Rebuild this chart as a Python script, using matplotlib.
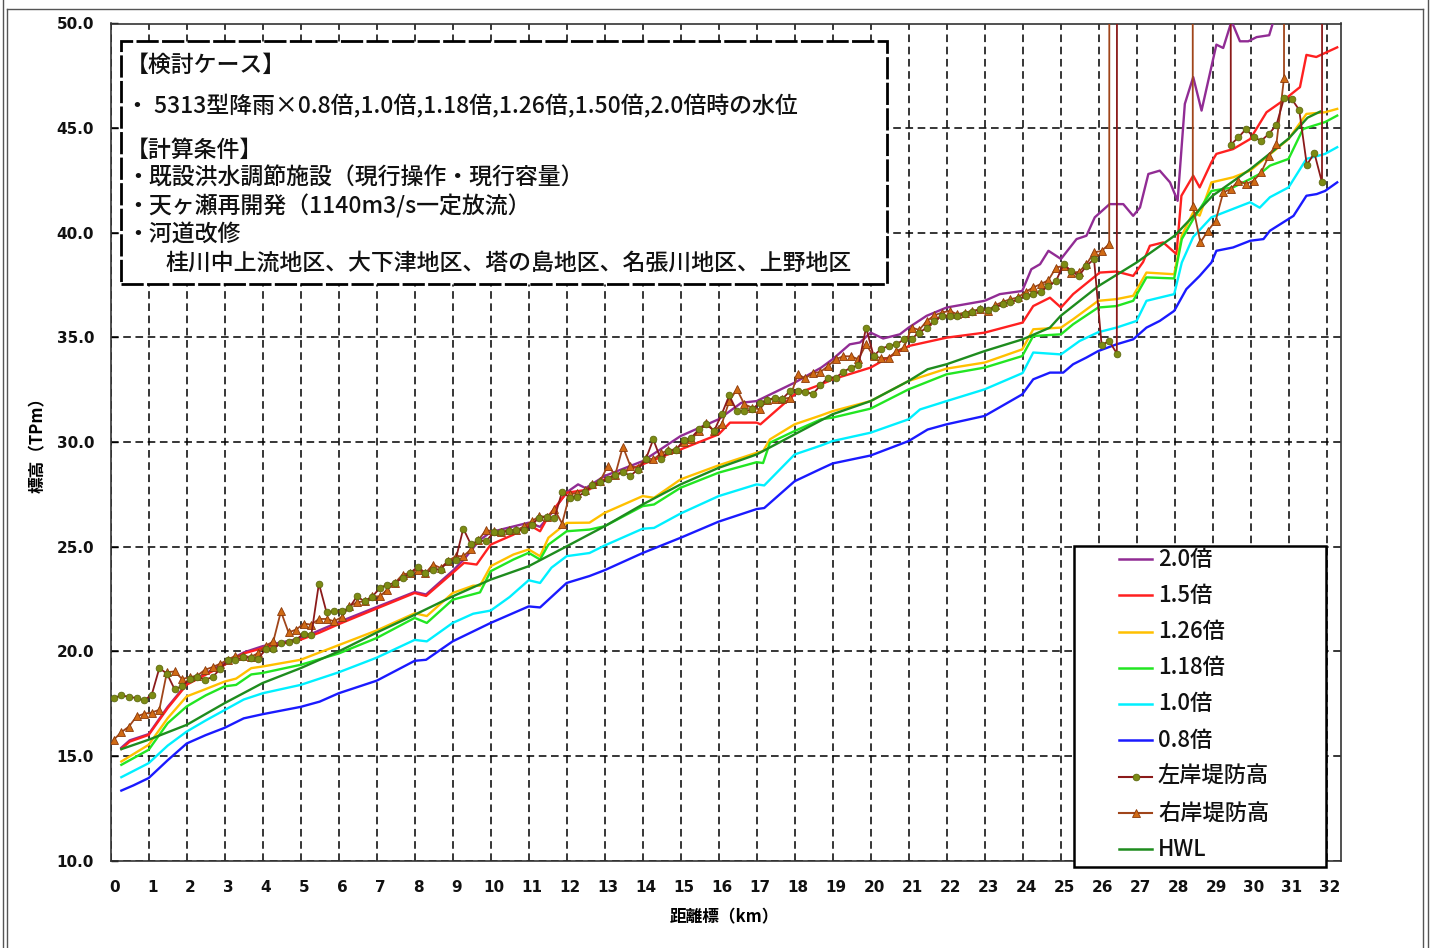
import numpy as np
import matplotlib
matplotlib.use("Agg")
import matplotlib.pyplot as plt
from matplotlib.lines import Line2D
from matplotlib.patches import Rectangle

plt.rcParams['font.family'] = ['Noto Sans CJK JP', 'DejaVu Sans']

W, H = 1434, 948
HI = 999.0  # 欠測（グラフ上端を超える値）

# ---------------- data ----------------
km_20 = [0.28, 0.5, 1.0, 1.5, 2.0, 3.0, 3.5, 4.0, 5.0, 6.0, 7.0, 8.0, 8.3, 9.0, 9.3, 9.7, 10.0, 11.0, 11.3,
         11.6, 12.0, 12.3, 12.5, 13.0, 14.0, 15.0, 16.0, 16.6, 17.0, 18.0, 18.7, 19.0, 19.45, 19.72, 20.0,
         20.33, 20.77, 21.0, 21.47, 22.0, 23.0, 23.4, 23.99, 24.23, 24.46, 24.68, 25.01, 25.42, 25.68, 25.9,
         26.29, 26.65, 26.91, 27.09, 27.31, 27.61, 27.88, 28.08, 28.27, 28.49, 28.71, 29.1, 29.28, 29.5,
         29.72, 29.94, 30.16, 30.49, 30.65, 31.0, 32.28]
wl_20 = [15.40, 15.75, 16.05, 17.35, 18.45, 19.45, 19.95, 20.25, 20.62, 21.40, 22.12, 22.84, 22.72, 23.85,
         24.40, 25.30, 25.70, 26.15, 25.95, 26.60, 27.60, 27.98, 27.80, 28.38, 29.09, 30.29, 31.09, 31.88,
         31.96, 32.84, 33.56, 33.96, 34.67, 34.76, 35.23, 34.95, 35.15, 35.47, 36.03, 36.43, 36.75, 37.07,
         37.22, 38.26, 38.50, 39.14, 38.75, 39.70, 39.86, 40.74, 41.37, 41.37, 40.81, 41.21, 42.81, 42.97,
         42.41, 41.53, 46.16, 47.44, 45.84, 48.99, 48.83, 50.11, 49.15, 49.15, 49.35, 49.44, 50.40, 51.00,
         52.00]

km_15 = [0.28, 0.5, 1.0, 1.5, 2.0, 3.0, 3.5, 4.0, 5.0, 5.5, 6.0, 7.0, 8.0, 8.3, 9.0, 9.3, 9.63, 10.0, 10.6,
         11.0, 11.3, 11.52, 12.0, 12.6, 13.0, 14.0, 15.0, 16.0, 16.3, 17.0, 17.1, 18.0, 18.7, 19.0, 20.0,
         21.0, 22.0, 23.0, 24.0, 24.28, 24.72, 25.01, 25.33, 26.03, 26.47, 26.91, 27.17, 27.35, 27.7, 28.05,
         28.18, 28.49, 28.66, 28.97, 29.1, 29.54, 29.99, 30.42, 30.86, 31.3, 31.47, 31.73, 32.28]
wl_15 = [15.34, 15.69, 16.01, 17.29, 18.41, 19.36, 19.90, 20.16, 20.56, 20.90, 21.30, 22.05, 22.79, 22.65,
         23.75, 24.23, 24.15, 25.10, 25.58, 26.06, 25.74, 26.46, 27.58, 27.74, 28.22, 28.94, 29.65, 30.37,
         30.93, 30.93, 30.85, 32.28, 32.76, 33.00, 33.56, 34.59, 34.99, 35.23, 35.71, 36.50, 36.90, 36.43,
         37.07, 38.10, 38.15, 37.94, 38.60, 39.38, 39.54, 38.98, 41.77, 42.73, 42.17, 43.37, 43.77, 44.00,
         44.48, 45.76, 46.32, 46.96, 48.50, 48.40, 48.86]

km_126 = [0.28, 1.0, 1.5, 2.0, 2.5, 3.0, 3.3, 3.7, 4.0, 5.0, 6.0, 7.0, 8.0, 8.32, 9.0, 9.54, 9.72, 10.0, 10.6,
          11.0, 11.3, 11.52, 12.0, 12.6, 13.0, 14.0, 14.3, 15.0, 16.0, 17.0, 17.17, 17.35, 18.0, 18.7, 19.0,
          20.0, 21.0, 22.0, 23.0, 23.99, 24.28, 25.01, 25.33, 25.99, 26.47, 26.91, 27.26, 27.99, 28.19, 28.49,
          28.66, 28.97, 29.54, 29.99, 31.0, 31.47, 31.96, 32.28]
wl_126 = [14.74, 15.54, 16.81, 17.85, 18.20, 18.56, 18.70, 19.20, 19.28, 19.60, 20.30, 21.00, 21.82, 21.69,
          22.79, 23.14, 23.14, 24.07, 24.63, 24.87, 24.55, 25.43, 26.14, 26.15, 26.62, 27.42, 27.34, 28.22,
          28.89, 29.49, 29.57, 30.13, 30.85, 31.28, 31.48, 31.96, 32.92, 33.51, 33.80, 34.43, 35.39, 35.47,
          35.87, 36.75, 36.83, 36.99, 38.10, 38.02, 39.87, 40.98, 40.82, 42.41, 42.65, 42.97, 44.48, 45.68,
          45.76, 45.92]

km_118 = [0.28, 1.0, 1.5, 2.0, 2.5, 3.0, 3.3, 3.7, 4.0, 5.0, 6.0, 7.0, 8.0, 8.32, 9.0, 9.72, 10.0, 10.6,
          11.0, 11.3, 11.52, 12.0, 12.6, 13.0, 14.0, 14.3, 15.0, 16.0, 17.0, 17.17, 17.35, 18.0, 18.7, 19.0,
          20.0, 21.0, 22.0, 23.0, 23.99, 24.28, 25.01, 25.33, 25.99, 26.47, 26.91, 27.26, 27.99, 28.19, 28.49,
          28.97, 29.54, 29.99, 30.24, 30.51, 31.0, 31.38, 31.96, 32.28]
wl_118 = [14.58, 15.30, 16.57, 17.37, 17.90, 18.33, 18.40, 18.90, 18.97, 19.36, 19.90, 20.64, 21.60, 21.36,
          22.47, 22.82, 23.83, 24.39, 24.71, 24.39, 25.10, 25.74, 25.82, 25.98, 26.94, 27.02, 27.82, 28.54,
          29.04, 29.00, 29.97, 30.53, 31.09, 31.17, 31.60, 32.52, 33.24, 33.56, 34.11, 35.07, 35.15, 35.63,
          36.43, 36.50, 36.75, 37.87, 37.82, 39.70, 40.65, 42.00, 42.17, 42.57, 42.81, 43.21, 43.53, 44.96,
          45.29, 45.60]

km_10 = [0.28, 1.0, 1.5, 2.0, 2.5, 3.0, 3.5, 4.0, 5.0, 6.0, 7.0, 8.0, 8.32, 9.0, 9.54, 10.0, 10.5, 11.0,
         11.3, 11.6, 12.0, 12.6, 13.0, 14.0, 14.3, 15.0, 16.0, 17.0, 17.2, 18.0, 18.7, 19.0, 20.0, 21.0, 21.3,
         22.0, 23.0, 24.0, 24.28, 25.01, 25.5, 25.99, 26.47, 27.0, 27.26, 27.99, 28.19, 28.49, 28.97, 29.99,
         30.24, 30.51, 31.0, 31.47, 31.96, 32.28]
wl_10 = [13.99, 14.66, 15.50, 16.17, 16.70, 17.20, 17.70, 18.00, 18.40, 19.00, 19.70, 20.55, 20.48, 21.36,
         21.80, 21.95, 22.60, 23.40, 23.27, 24.00, 24.55, 24.70, 25.06, 25.86, 25.90, 26.59, 27.42, 27.98,
         27.93, 29.41, 29.84, 30.05, 30.45, 31.09, 31.56, 31.96, 32.52, 33.30, 34.28, 34.19, 34.83, 35.25,
         35.47, 35.79, 36.75, 37.07, 38.58, 39.80, 40.74, 41.46, 41.20, 41.70, 42.17, 43.53, 43.77, 44.09]

km_08 = [0.28, 0.6, 1.0, 1.5, 2.0, 2.5, 3.0, 3.5, 4.0, 5.0, 5.5, 6.0, 7.0, 8.0, 8.3, 9.0, 10.0, 11.0, 11.3,
         12.0, 12.6, 13.0, 14.0, 15.0, 16.0, 17.0, 17.2, 18.0, 18.7, 19.0, 20.0, 21.0, 21.5, 22.0, 23.0,
         23.99, 24.28, 24.72, 25.07, 25.33, 25.68, 25.99, 26.47, 26.91, 27.26, 27.61, 27.99, 28.31, 28.66,
         28.97, 29.1, 29.54, 29.99, 30.34, 30.51, 31.0, 31.13, 31.47, 31.74, 31.96, 32.28]
wl_08 = [13.35, 13.60, 13.95, 14.80, 15.60, 16.00, 16.35, 16.80, 17.00, 17.35, 17.60, 18.00, 18.60, 19.55,
         19.60, 20.48, 21.36, 22.15, 22.10, 23.27, 23.60, 23.88, 24.70, 25.43, 26.20, 26.80, 26.85, 28.13,
         28.73, 28.98, 29.36, 30.05, 30.60, 30.85, 31.25, 32.28, 33.00, 33.32, 33.32, 33.72, 34.04, 34.35,
         34.67, 34.91, 35.47, 35.79, 36.27, 37.31, 37.94, 38.58, 39.14, 39.30, 39.62, 39.70, 40.10, 40.66,
         40.81, 41.77, 41.85, 42.00, 42.41]

km_hwl = [0.28, 1.0, 2.0, 3.0, 4.0, 5.0, 6.0, 7.0, 8.0, 9.0, 10.0, 11.0, 12.0, 13.0, 14.0, 15.0, 16.0, 17.0,
          18.0, 19.0, 20.0, 21.0, 21.5, 22.0, 23.0, 24.0, 24.72, 25.0, 26.0, 27.0, 28.0, 29.0, 30.0, 31.0,
          31.5, 31.83]
wl_hwl = [15.33, 15.78, 16.49, 17.53, 18.49, 19.20, 20.00, 20.90, 21.75, 22.63, 23.43, 24.07, 25.02, 25.98,
          27.02, 27.98, 28.77, 29.41, 30.37, 31.33, 31.96, 32.92, 33.48, 33.72, 34.35, 34.91, 35.47, 36.03,
          37.46, 38.58, 39.86, 41.77, 43.05, 44.50, 45.50, 45.79]

# 堤防高 (0.2km 間隔)
bank_km = np.round(np.arange(162) * 0.2 + 0.08, 2)

left_bank = [
    17.77, 17.90, 17.83, 17.77, 17.66, 17.93, 19.20, 18.94, 18.20, 18.33,
    18.70, 18.80, 18.65, 18.77, 19.16, 19.57, 19.57, 19.73, 19.68, 19.64,
    20.11, 20.11, 20.40, 20.43, 20.56, 20.85, 20.80, 23.24, 21.87, 21.91,
    21.91, 22.08, 22.63, 22.39, 22.60, 23.03, 23.19, 23.27, 23.51, 23.75,
    24.04, 23.75, 23.91, 23.91, 24.31, 24.39, 25.87, 25.11, 25.30, 25.26,
    25.69, 25.69, 25.74, 25.79, 25.82, 26.06, 26.38, 26.43, 26.38, 27.63,
    27.34, 27.40, 27.60, 27.93, 28.09, 28.25, 28.45, 28.56, 28.40, 28.69,
    29.17, 30.13, 29.17, 29.57, 29.62, 30.10, 30.21, 30.61, 30.85, 30.53,
    31.33, 32.23, 31.48, 31.48, 31.56, 31.88, 32.01, 32.12, 32.07, 32.44,
    32.44, 32.40, 32.30, 32.71, 33.08, 33.08, 33.35, 33.56, 33.67, 35.47,
    34.11, 34.47, 34.59, 34.67, 34.91, 34.94, 35.23, 35.47, 35.79, 36.03,
    36.03, 36.03, 36.11, 36.22, 36.35, 36.32, 36.43, 36.62, 36.70, 36.83,
    36.99, 37.07, 37.18, 37.46, 37.70, 38.50, 38.18, 37.94, 38.42, 38.74,
    34.63, 34.83, 34.23,
    HI, HI, HI, HI, HI, HI, HI, HI, HI, HI, HI, HI, HI, HI,
    44.21, 44.56, 44.96, 44.56, 44.40, 44.72, 45.15, 46.43, 46.40, 45.87, 43.25, 43.80, 42.41,
    HI, HI]

right_bank = [
    15.78, 16.14, 16.41, 16.89, 17.02, 17.08, 17.21, 19.01, 19.04, 18.68,
    18.77, 18.84, 19.12, 19.25, 19.41, 19.60, 19.79, 19.79, 19.73, 19.92,
    20.27, 20.48, 21.91, 20.91, 21.04, 21.33, 21.28, 21.55, 21.55, 21.44,
    21.64, 22.15, 22.35, 22.39, 22.63, 22.63, 22.95, 23.27, 23.67, 23.75,
    23.91, 23.73, 24.15, 23.99, 24.31, 24.55, 24.55, 24.87, 25.34, 25.79,
    25.74, 25.69, 25.82, 25.79, 25.98, 26.22, 26.46, 26.43, 26.78, 26.11,
    27.50, 27.58, 27.70, 27.98, 28.14, 28.85, 28.45, 29.78, 28.85, 28.77,
    29.25, 29.17, 29.46, 29.62, 29.65, 30.00, 30.13, 30.53, 30.93, 30.53,
    30.85, 31.96, 32.52, 31.80, 31.65, 31.56, 32.01, 32.07, 32.07, 32.12,
    33.24, 33.05, 33.30, 33.35, 33.64, 33.96, 34.10, 34.10, 33.96, 34.67,
    34.10, 34.02, 34.02, 34.35, 34.52, 35.47, 35.36, 35.79, 36.06, 36.19,
    36.27, 36.11, 36.19, 36.27, 36.35, 36.27, 36.54, 36.70, 36.83, 36.91,
    37.18, 37.39, 37.55, 37.74, 38.34, 38.42, 38.10, 38.13, 38.50, 39.06,
    39.14, 39.46,
    HI, HI, HI, HI, HI, HI, HI, HI, HI, HI,
    41.29, 39.54, 40.10, 40.57, 41.93, 42.09, 42.49, 42.33, 42.49, 42.89, 43.68, 44.24, 47.40,
    HI, HI, HI, HI, HI, HI, HI]

x_ticks = list(range(0, 33))
y_ticks = [10, 15, 20, 25, 30, 35, 40, 45, 50]

series = [
    ("2.0倍", km_20, wl_20, "#912C94"),
    ("1.5倍", km_15, wl_15, "#FF2020"),
    ("1.26倍", km_126, wl_126, "#FFC000"),
    ("1.18倍", km_118, wl_118, "#22E622"),
    ("1.0倍", km_10, wl_10, "#00F0FF"),
    ("0.8倍", km_08, wl_08, "#1A1AFF"),
]
HWL_COLOR = "#1E8C1E"
L_LINE, L_FACE, L_EDGE = "#8B1A1A", "#7D8C14", "#5E6A10"
R_LINE, R_FACE, R_EDGE = "#A0451A", "#D06A14", "#8B3A0A"

# ---------------- figure ----------------
fig = plt.figure(figsize=(W / 100, H / 100), dpi=100)


def fx(x):
    return x / W


def fy(y):
    return 1 - y / H


ax_l, ax_r, ax_t, ax_b = 110.7, 1341.0, 23.5, 860.7
ax = fig.add_axes([fx(ax_l), fy(ax_b), (ax_r - ax_l) / W, (ax_b - ax_t) / H])
ax.set_xlim(0, 32.38)
ax.set_ylim(10, 50)

for lab, kx, ky, col in series:
    ax.plot(kx, ky, color=col, lw=1.7, zorder=3)
ax.plot(km_hwl, wl_hwl, color=HWL_COLOR, lw=1.7, zorder=3)

ax.plot(bank_km, right_bank, color=R_LINE, lw=1.3, marker='^', ms=5.5,
        mfc=R_FACE, mec=R_EDGE, mew=0.6, zorder=4)
ax.plot(bank_km, left_bank, color=L_LINE, lw=1.3, marker='o', ms=4.8,
        mfc=L_FACE, mec=L_EDGE, mew=0.6, zorder=5)

# grid / ticks
ax.set_xticks(x_ticks)
ax.set_xticklabels([])
ax.set_xticks(np.array(x_ticks) + 0.09, minor=True)
ax.set_xticklabels([str(v) for v in x_ticks], minor=True)
ax.set_yticks(y_ticks)
ax.set_yticklabels([f"{v:.1f}" for v in y_ticks])
ax.grid(True, which='major', color='black', lw=1.1, linestyle=(0, (5, 3)), zorder=1)
ax.tick_params(axis='x', which='both', length=0, pad=14)
ax.tick_params(axis='y', which='major', direction='in', length=4.8, width=1.0, pad=12)
for t in ax.get_xticklabels(minor=True) + ax.get_yticklabels():
    t.set_fontfamily('DejaVu Sans')
    t.set_fontweight('bold')
    t.set_fontsize(11)
    t.set_color('#111111')
for s in ax.spines.values():
    s.set_color('#333333')
    s.set_linewidth(1.2)

fig.text(fx(38), fy(441), "標高（TPm）", rotation=90, ha='center', va='center',
         fontsize=12, fontweight='bold')
fig.text(fx(724), fy(917), "距離標（km）", ha='center', va='center', fontsize=12, fontweight='bold')

# ---------------- annotation box ----------------
fig.add_artist(Rectangle((fx(120.7), fy(283.5)), (887 - 120.7) / W, (283.5 - 40.7) / H,
                         transform=fig.transFigure, facecolor='white', edgecolor='black',
                         lw=2.0, linestyle=(0, (8, 1.2)), zorder=6))
box_lines = [
    (126, 65, "【検討ケース】"),
    (126, 106, "・ 5313型降雨×0.8倍,1.0倍,1.18倍,1.26倍,1.50倍,2.0倍時の水位"),
    (126, 150, "【計算条件】"),
    (126, 178, "・既設洪水調節施設（現行操作・現行容量）"),
    (126, 206, "・天ヶ瀬再開発（1140m3/s一定放流）"),
    (126, 234, "・河道改修"),
    (166, 263, "桂川中上流地区、大下津地区、塔の島地区、名張川地区、上野地区"),
]
for x, y, s in box_lines:
    fig.text(fx(x), fy(y), s, ha='left', va='center', fontsize=16.5, fontweight='medium',
             zorder=7, color='#111111')

# ---------------- legend ----------------
fig.add_artist(Rectangle((fx(1074), fy(866.7)), (1326 - 1074) / W, (866.7 - 546) / H,
                         transform=fig.transFigure, facecolor='white', edgecolor='black',
                         lw=1.8, zorder=6))
leg_items = [(lab, col, None) for lab, _, _, col in series] + [
    ("左岸堤防高", L_LINE, 'L'), ("右岸堤防高", R_LINE, 'R'), ("HWL", HWL_COLOR, None)]
for k, (lab, col, mk) in enumerate(leg_items):
    yy = 559 + 36.25 * k
    fig.add_artist(Line2D([fx(1119.3), fx(1151.7)], [fy(yy), fy(yy)], color=col,
                          lw=1.8 if mk is None else 1.5, zorder=7))
    if mk == 'L':
        fig.add_artist(Line2D([fx(1135.5)], [fy(yy)], marker='o', ms=4.8, mfc=L_FACE, mec=L_EDGE,
                              mew=0.6, lw=0, zorder=8))
    elif mk == 'R':
        fig.add_artist(Line2D([fx(1135.5)], [fy(yy)], marker='^', ms=5.5, mfc=R_FACE, mec=R_EDGE,
                              mew=0.6, lw=0, zorder=8))
    fig.text(fx(1158), fy(yy), lab, ha='left', va='center', fontsize=16, fontweight='medium',
             zorder=8, color='#111111')

# ---------------- outer frame ----------------
fc = '#555555'
for xs, ys in [([3.3, 3.3], [0, H]), ([7.3, 7.3], [9.3, H]), ([7.3, 1422.7], [9.3, 9.3]),
               ([1422.7, 1422.7], [9.3, H]), ([1427.7, 1427.7], [0, H])]:
    fig.add_artist(Line2D([fx(v) for v in xs], [fy(v) for v in ys], color=fc, lw=1.0, zorder=9))

fig.savefig("out.png", dpi=100)
